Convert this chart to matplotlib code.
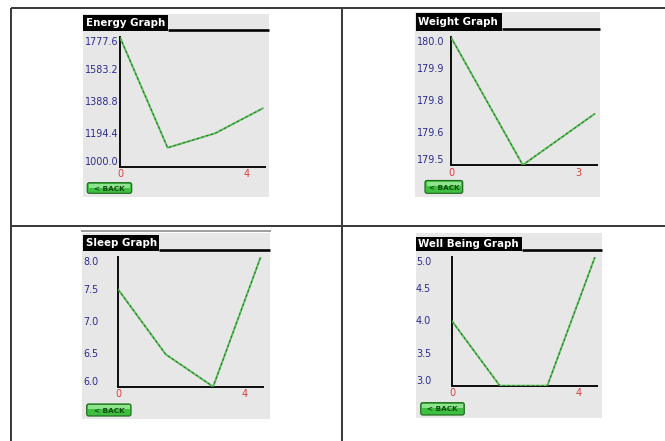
import matplotlib
matplotlib.use("Agg")
import matplotlib.pyplot as plt
from matplotlib.patches import Rectangle, FancyBboxPatch
from matplotlib.transforms import ScaledTranslation
import numpy as np

W, H = 665, 441
DPI = 100

# ---------------- data ----------------
energy_title = "Energy Graph"
energy_values = [1777.6, 1114.0, 1201.0, 1351.0]
energy_ticks = ["1000.0", "1194.4", "1388.8", "1583.2", "1777.6"]
energy_range = (1000.0, 1777.6)

weight_title = "Weight Graph"
weight_values = [180.0, 179.5, 179.7]
weight_ticks = ["179.5", "179.6", "179.8", "179.9", "180.0"]
weight_range = (179.5, 180.0)

sleep_title = "Sleep Graph"
sleep_values = [7.5, 6.5, 6.0, 8.0]
sleep_ticks = ["6.0", "6.5", "7.0", "7.5", "8.0"]
sleep_range = (6.0, 8.0)

well_title = "Well Being Graph"
well_values = [4.0, 3.0, 3.0, 5.0]
well_ticks = ["3.0", "3.5", "4.0", "4.5", "5.0"]
well_range = (3.0, 5.0)

# ---------------- figure ----------------
fig = plt.figure(figsize=(W / DPI, H / DPI), dpi=DPI)
fig.patch.set_facecolor("white")
bg = fig.add_axes([0, 0, 1, 1])
bg.set_xlim(0, W)
bg.set_ylim(H, 0)
bg.axis("off")

PX = 72.0 / DPI  # points per pixel

# table grid
grid_c = "#3c3c3c"
bg.plot([11, W], [7.5, 7.5], color=grid_c, lw=2 * PX, solid_capstyle="butt")
bg.plot([11, 11], [7.5, H], color=grid_c, lw=2 * PX, solid_capstyle="butt")
bg.plot([342.3, 342.3], [7.5, H], color=grid_c, lw=2 * PX, solid_capstyle="butt")
bg.plot([11, W], [226, 226], color=grid_c, lw=2 * PX, solid_capstyle="butt")


def pax(l, t, r, b):
    return [l / W, 1 - b / H, (r - l) / W, (b - t) / H]


def panel(gray, tab, title, button, plot_box, values, ticks, yrange,
          lab_left, topline=None):
    gl, gt, gr, gb = gray
    bg.add_patch(Rectangle((gl, gt), gr - gl, gb - gt, facecolor="#e7e7e7",
                           edgecolor="none", zorder=1))
    if topline is not None:
        bg.plot([gl, gr], [topline, topline], color="#a0a0a0", lw=2 * PX, zorder=2)
    tl, tt, tr, tb = tab
    bg.add_patch(Rectangle((tl, tt), tr - tl, tb - tt, facecolor="black",
                           edgecolor="none", zorder=2))
    bg.plot([tr, gr], [tb - 1.3, tb - 1.3], color="black", lw=2.6 * PX,
            solid_capstyle="butt", zorder=2)
    bg.text(tl + 2.5, (tt + tb) / 2 + 0.5, title, color="white", fontsize=7.4,
            fontweight="bold", ha="left", va="center", zorder=3,
            family="DejaVu Sans")
    bl, bt, br, bb = button
    bg.add_patch(FancyBboxPatch((bl, bt), br - bl, bb - bt,
                                boxstyle="round,pad=0,rounding_size=2",
                                facecolor="#3fbf3f", edgecolor="#1f6b1f",
                                lw=1.2 * PX, zorder=2))
    bg.add_patch(Rectangle((bl + 1.5, bt + 1.2), br - bl - 3, (bb - bt) * 0.35,
                           facecolor="#8fe38f", edgecolor="none", zorder=2.5))
    bg.text((bl + br) / 2, (bt + bb) / 2 + 0.6, "< BACK", color="#0f4a0f",
            fontsize=5.2, fontweight="bold", ha="center", va="center", zorder=3)

    l, t, r, b = plot_box
    ax = fig.add_axes(pax(l, t, r, b))
    ax.patch.set_alpha(0)
    n = len(values)
    xs = np.arange(n)
    ax.plot(xs, values, color="#5cc05c", lw=1.4, solid_capstyle="round", zorder=3)
    ax.plot(xs, values, color="#2d6e2d", lw=0.7, ls=(0, (2.5, 2.5)), zorder=4)
    ax.set_xlim(0, (n - 1) * 1.015)
    ax.set_ylim(*yrange)
    for s in ["top", "right"]:
        ax.spines[s].set_visible(False)
    for s in ["left", "bottom"]:
        ax.spines[s].set_color("#111111")
        ax.spines[s].set_linewidth(2 * PX)
    ax.set_xticks([])
    ax.set_yticks([])

    # y labels
    off = ScaledTranslation(-(l - lab_left) / DPI, 0, fig.dpi_scale_trans)
    tr_y = ax.get_yaxis_transform() + off
    tick_vals = np.linspace(yrange[0], yrange[1], len(ticks))
    for i, (v, s) in enumerate(zip(tick_vals, ticks)):
        va = "bottom" if i == 0 else ("top" if i == len(ticks) - 1 else "center")
        ax.text(0, v, s, transform=tr_y, ha="left", va=va, color="#2b2b8e",
                fontsize=6.9, clip_on=False)
    # x labels
    down = ScaledTranslation(0, -2.5 / DPI, fig.dpi_scale_trans)
    ax.text(0, 0, "0", transform=ax.get_xaxis_transform() + down, ha="center",
            va="top", color="#e23a3a", fontsize=6.9, clip_on=False)
    left17 = ScaledTranslation(-16 / DPI, -2.5 / DPI, fig.dpi_scale_trans)
    ax.text(n - 1, 0, str(n), transform=ax.get_xaxis_transform() + left17,
            ha="center", va="top", color="#e23a3a", fontsize=6.9, clip_on=False)
    return ax


panel((83.3, 14, 269.3, 196.7), (83.3, 14.5, 168.3, 31), energy_title,
      (87.3, 182.7, 131.7, 193.3), (120, 37.3, 265, 166.7),
      energy_values, energy_ticks, energy_range, 85)
panel((415, 11.7, 600, 196.7), (416, 13.3, 501.7, 30.5), weight_title,
      (425, 180.5, 462.7, 193.3), (451, 37.3, 596.7, 165),
      weight_values, weight_ticks, weight_range, 416.7)
panel((82, 233, 270, 419), (83, 235, 159, 251), sleep_title,
      (86.7, 404, 131, 416), (118.3, 257.3, 262.7, 386.7),
      sleep_values, sleep_ticks, sleep_range, 83.3, topline=230.7)
panel((416, 233, 602, 418), (416, 236.7, 521.7, 251), well_title,
      (420.7, 402.7, 464.3, 415), (452.3, 257.3, 597, 385.7),
      well_values, well_ticks, well_range, 416)

fig.savefig("out.png", dpi=DPI)
